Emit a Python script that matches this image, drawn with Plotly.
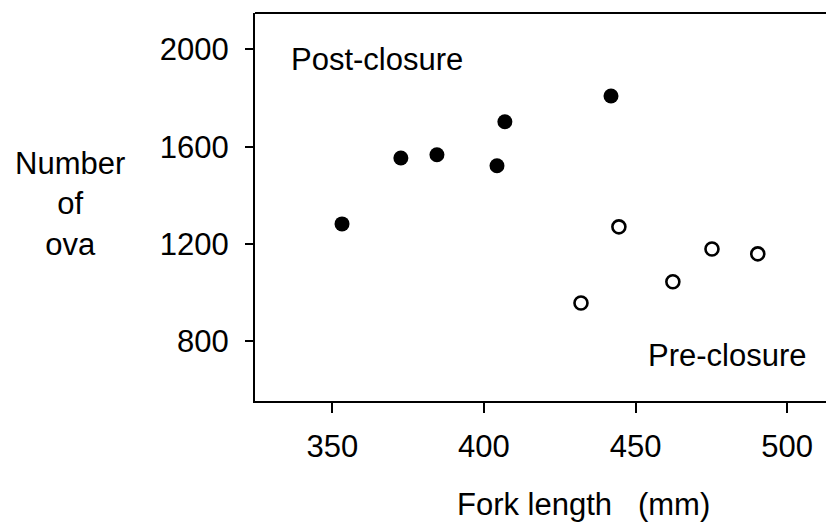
import plotly.graph_objects as go

# Data
post_fork = [353.2, 372.6, 384.5, 404.3, 406.9, 441.9]
post_ova = [1283, 1554, 1567, 1522, 1703, 1809]
pre_fork = [432.0, 444.5, 462.3, 475.2, 490.3]
pre_ova = [958, 1271, 1045, 1180, 1160]

x_ticks = [350, 400, 450, 500]
y_ticks = [800, 1200, 1600, 2000]

FONT = "Liberation Sans, Arial, Helvetica, sans-serif"
FS = 31

fig = go.Figure()
fig.add_trace(go.Scatter(
    x=post_fork, y=post_ova, mode="markers", name="Post-closure",
    marker=dict(size=15, color="black", line=dict(width=0)),
))
fig.add_trace(go.Scatter(
    x=pre_fork, y=pre_ova, mode="markers", name="Pre-closure",
    marker=dict(size=13, color="white", line=dict(width=2.6, color="black")),
))

fig.update_layout(
    width=826, height=530,
    margin=dict(l=255, r=0, t=13, b=129),
    paper_bgcolor="white", plot_bgcolor="white",
    showlegend=False,
    font=dict(family=FONT, size=FS, color="black"),
    xaxis=dict(
        range=[324.5, 512.8], tickvals=x_ticks,
        ticks="outside", ticklen=10, tickwidth=1.5, tickcolor="black",
        showline=True, linecolor="black", linewidth=2,
        showgrid=False, zeroline=False,
        tickfont=dict(family=FONT, size=FS),
        ticklabelstandoff=7,
    ),
    yaxis=dict(
        range=[555, 2150], tickvals=y_ticks,
        ticks="outside", ticklen=8, tickwidth=1.5, tickcolor="black",
        showline=True, linecolor="black", linewidth=2,
        showgrid=False, zeroline=False,
        tickfont=dict(family=FONT, size=FS),
        ticklabelstandoff=10,
    ),
    shapes=[dict(type="line", xref="paper", yref="paper", x0=0, x1=1, y0=1, y1=1,
                 line=dict(color="black", width=2))],
    annotations=[
        dict(text="Post-closure", xref="paper", yref="paper",
             x=(289 - 255) / 571, y=(401 - 59) / 388, xanchor="left", yanchor="middle",
             showarrow=False, font=dict(family=FONT, size=FS)),
        dict(text="Pre-closure", xref="paper", yref="paper",
             x=(809 - 255) / 571, y=(401 - 355) / 388, xanchor="right", yanchor="middle",
             showarrow=False, font=dict(family=FONT, size=FS)),
        dict(text="Number<br>of<br>ova", xref="paper", yref="paper",
             x=(70 - 255) / 571, y=(401 - 204) / 388, xanchor="center", yanchor="middle",
             showarrow=False, align="center", font=dict(family=FONT, size=FS)),
        dict(text="Fork length&nbsp;&nbsp;&nbsp;(mm)", xref="paper", yref="paper",
             x=(583 - 255) / 571, y=(401 - 504) / 388, xanchor="center", yanchor="middle",
             showarrow=False, font=dict(family=FONT, size=FS)),
    ],
)

fig.write_html("out.html")
